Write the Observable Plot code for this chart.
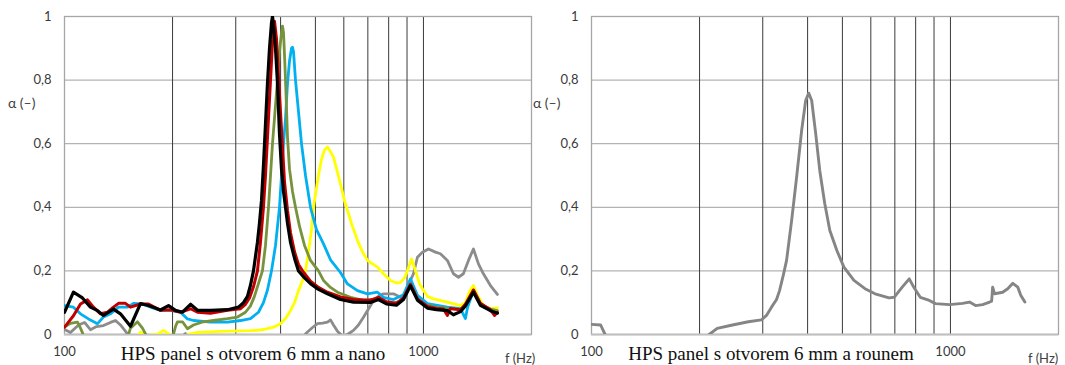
<!DOCTYPE html>
<html><head><meta charset="utf-8">
<script src="https://cdn.jsdelivr.net/npm/d3@7"></script>
<script src="https://cdn.jsdelivr.net/npm/@observablehq/plot@0.6"></script>
<style>
body{margin:0;background:#fff;}
#wrap{position:relative;width:1065px;height:365px;overflow:hidden;font-family:Lato,sans-serif;}
.panel{position:absolute;top:0;}
.lbl{position:absolute;white-space:nowrap;color:#404040;line-height:1;}
.cap{position:absolute;font-family:"Liberation Serif","Times New Roman",serif;font-size:19px;color:#111;white-space:nowrap;transform:translateX(-50%);line-height:1;}
</style></head><body><div id="wrap"></div>
<script>
// ---- axes / ticks ----
const xDomain = [100, 2000];
const xTicks = [100, 1000];
const xGrid = [200, 300, 400, 500, 600, 700, 800, 900, 1000];
const yTicks = [0, 0.2, 0.4, 0.6, 0.8, 1];
const yGrid = [0.2, 0.4, 0.6, 0.8];
const captions = ["HPS panel s otvorem 6 mm a nano", "HPS panel s otvorem 6 mm a rounem"];

// ---- left panel series (f in Hz, alpha) ----
const freqBlack = [100,105.9,112.2,118.1,123.6,128.4,136.9,143.2,152.7,162.8,171.4,185.1,194.9,203.8,213.2,224.4,234.7,255.1,284.5,305.3,315.2,323.4,329.7,336.1,344.8,349.3,353.8,358.3,363.0,367.7,372.5,377.3,379.7,382.2,387.1,392.1,397.2,402.3,407.5,412.8,418.1,426.2,437.3,448.7,466.3,484.5,510.0,540.3,587.2,638.4,711.9,749.4,788.8,841.0,879.6,920.0,962.2,1026,1087,1166,1212,1268,1309,1378,1441,1537,1607];
const alphaBlack = [0.070,0.133,0.115,0.086,0.075,0.060,0.080,0.065,0.026,0.097,0.091,0.077,0.091,0.076,0.070,0.095,0.076,0.076,0.078,0.086,0.10,0.12,0.155,0.20,0.29,0.35,0.42,0.53,0.66,0.79,0.90,0.98,1.0,0.97,0.90,0.79,0.63,0.52,0.45,0.40,0.35,0.29,0.24,0.20,0.178,0.16,0.142,0.128,0.11,0.102,0.101,0.11,0.096,0.092,0.11,0.153,0.108,0.083,0.078,0.075,0.062,0.072,0.09,0.133,0.092,0.075,0.067];

const freqRed = [100,105.9,110.8,115.9,120.4,126.0,131.8,136.9,141.4,147.8,152.7,162.8,171.4,185.1,197.4,210.4,224.4,234.7,255.1,284.5,309.3,319.3,327.6,336.1,344.8,351.5,358.3,363.0,367.7,374.9,379.7,384.6,389.6,394.6,399.7,404.9,410.1,418.1,426.2,437.3,448.7,460.4,484.5,510.0,540.3,587.2,638.4,711.9,749.4,788.8,841.0,879.6,920.0,962.2,1026,1087,1137,1166,1189,1268,1309,1378,1441,1537,1577,1607];
const alphaRed = [0.023,0.059,0.096,0.109,0.086,0.065,0.070,0.086,0.098,0.098,0.086,0.096,0.096,0.076,0.078,0.070,0.081,0.070,0.067,0.076,0.081,0.095,0.115,0.15,0.20,0.29,0.40,0.50,0.62,0.80,0.92,0.985,0.93,0.81,0.70,0.59,0.48,0.39,0.32,0.26,0.22,0.20,0.168,0.148,0.133,0.118,0.110,0.108,0.117,0.103,0.098,0.115,0.158,0.112,0.088,0.082,0.080,0.06,0.082,0.078,0.095,0.14,0.098,0.078,0.06,0.07];

const freqGreen = [100,103.9,108.7,110.8,113.7,118.1,143.2,149.8,152.7,159.7,164.9,170.3,175.9,194.9,200,203.8,206.4,213.2,220.1,228.7,243.9,260.0,284.5,303.4,319.3,329.7,338.2,347.0,356.0,363.0,370.1,374.9,379.7,384.6,392.1,397.2,402.3,404.9,407.5,410.1,412.8,418.1,423.5,431.7,440.1,451.6,466.3,484.5,510.0,526.7,550.9,576.1,626.2,680.6,744.6,788.8,825.0,879.6,920.0,962.2,1000,1087,1166,1268,1309,1378,1441,1537,1607];
const alphaGreen = [0.023,0.035,0.039,0.02,-0.01,-0.05,-0.05,-0.01,0.02,0.040,0.02,-0.01,-0.05,-0.05,-0.01,0.025,0.040,0.040,0.018,0.030,0.040,0.044,0.050,0.055,0.07,0.09,0.12,0.16,0.20,0.28,0.40,0.50,0.60,0.68,0.80,0.89,0.95,0.97,0.95,0.88,0.80,0.62,0.52,0.45,0.40,0.34,0.28,0.233,0.20,0.17,0.148,0.133,0.117,0.107,0.112,0.100,0.097,0.11,0.159,0.11,0.095,0.085,0.082,0.078,0.092,0.14,0.095,0.08,0.075];

const freqBlue = [100,105.9,110.8,116.6,123.6,128.4,134.3,141.4,149.8,155.6,164.9,173.6,185.1,197.4,210.4,220.1,228.7,255.1,284.5,309.3,329.7,347.0,358.3,367.7,377.3,387.1,397.2,402.3,407.5,412.8,418.1,423.5,429.0,431.7,434.5,440.1,448.7,457.4,469.3,484.5,503.5,526.7,550.9,587.2,614.3,654.9,698.3,744.6,773.8,825.0,879.6,920.0,962.2,1026,1166,1268,1309,1327,1378,1441,1537,1607];
const alphaBlue = [0.091,0.086,0.065,0.049,0.034,0.055,0.065,0.086,0.086,0.098,0.096,0.086,0.076,0.076,0.070,0.049,0.044,0.039,0.039,0.044,0.05,0.07,0.10,0.14,0.20,0.28,0.40,0.50,0.60,0.68,0.79,0.86,0.90,0.903,0.89,0.80,0.70,0.60,0.50,0.40,0.33,0.285,0.235,0.195,0.159,0.138,0.128,0.133,0.117,0.11,0.125,0.175,0.123,0.097,0.086,0.081,0.05,0.085,0.138,0.097,0.075,0.07];

const freqYellow = [100,147.8,155.6,162.8,168.1,181.6,188.7,197.4,217.3,224.4,234.7,272.0,329.7,344.8,365.4,382.2,399.7,412.8,426.2,437.3,448.7,460.4,469.3,478.4,487.6,493.9,503.5,510.0,519.9,530.0,540.3,550.9,561.5,576.1,587.2,602.6,614.3,634.3,654.9,676.3,698.3,721.1,744.6,773.8,809.3,841.0,862.9,885.3,902.5,926.0,949.9,974.7,993.6,1026,1066,1166,1268,1309,1344,1378,1414,1469,1537,1607];
const alphaYellow = [-0.08,-0.06,-0.02,0.007,-0.003,0.0,0.013,-0.002,-0.003,0.002,0.007,0.01,0.012,0.013,0.018,0.023,0.034,0.05,0.075,0.10,0.138,0.17,0.20,0.26,0.33,0.40,0.46,0.50,0.55,0.58,0.59,0.575,0.558,0.51,0.474,0.42,0.39,0.34,0.296,0.26,0.233,0.222,0.212,0.191,0.170,0.162,0.164,0.178,0.20,0.238,0.201,0.16,0.144,0.12,0.112,0.102,0.091,0.10,0.135,0.154,0.123,0.091,0.081,0.084];

const freqGray = [100,103.9,109.4,113.7,118.1,122.8,128.4,134.3,138.7,143.2,149.8,155.6,203.8,213.2,217.3,221.5,231.7,440.1,463.4,475.3,490.8,506.8,523.3,540.3,550.9,561.5,576.1,594.9,614.3,638.4,659.1,680.6,702.8,725.7,749.4,773.8,825.0,862.9,896.7,920.0,937.8,962.2,993.6,1032.6,1080,1115,1166,1212,1252,1292,1335,1378,1423,1469,1537,1607];
const alphaGray = [0.016,0.006,0.03,0.038,0.015,0.025,0.028,0.038,0.044,0.03,0.002,-0.04,-0.04,-0.005,0.003,-0.005,-0.05,-0.05,-0.005,0.008,0.022,0.034,0.036,0.039,0.046,0.03,0.01,-0.005,0.0,0.013,0.03,0.054,0.08,0.107,0.12,0.128,0.128,0.117,0.128,0.17,0.191,0.243,0.259,0.269,0.259,0.254,0.233,0.191,0.180,0.191,0.233,0.269,0.222,0.191,0.154,0.126];

// ---- right panel series ----
const freqRouno = [100,106.0,110.2,114.5,189.4,202.0,212.7,224.0,245.2,273.5,297.4,307.2,317.3,327.7,334.1,342.8,349.5,361.0,372.8,385.0,395.1,402.8,410.6,421.4,432.4,446.6,461.3,482.6,504.9,538.5,578.0,616.6,674.6,696.8,733.9,767.7,793.0,824.1,873.4,907.9,993.6,1080,1130,1175,1229,1286,1302.5,1311,1328,1398,1444,1492,1540,1571,1612];
const alphaRouno = [0.032,0.030,-0.01,-0.06,-0.06,-0.03,0.0,0.019,0.029,0.040,0.046,0.06,0.086,0.11,0.138,0.19,0.233,0.358,0.495,0.642,0.736,0.759,0.736,0.631,0.516,0.411,0.327,0.264,0.212,0.170,0.144,0.128,0.115,0.117,0.149,0.175,0.146,0.117,0.107,0.097,0.094,0.098,0.102,0.091,0.094,0.102,0.105,0.149,0.128,0.133,0.144,0.161,0.149,0.123,0.102];

const leftSeries = [
  {f: freqGray, a: alphaGray, color: "#8c8c8c", w: 2.8},
  {f: freqYellow, a: alphaYellow, color: "#ffff00", w: 2.8},
  {f: freqBlue, a: alphaBlue, color: "#00b0f0", w: 2.8},
  {f: freqGreen, a: alphaGreen, color: "#77933c", w: 2.8},
  {f: freqRed, a: alphaRed, color: "#c00000", w: 3},
  {f: freqBlack, a: alphaBlack, color: "#000000", w: 3.2}
];
const rightSeries = [
  {f: freqRouno, a: alphaRouno, color: "#858585", w: 2.9}
];

const fmtY = d => String(d).replace(".", ",");

function panel(series, width, marginLeft, marginRight) {
  return Plot.plot({
    width, height: 365,
    marginLeft, marginRight, marginTop: 16, marginBottom: 31,
    x: {type: "log", domain: xDomain, label: null},
    y: {domain: [0, 1], label: null},
    style: {fontFamily: "Lato, sans-serif", fontSize: "13px", color: "#3a3a3a", background: "transparent", overflow: "visible"},
    marks: [
      Plot.ruleY(yGrid, {stroke: "#b3b3b3", strokeWidth: 1.3}),
      Plot.ruleX(xGrid, {stroke: "#3a3a3a", strokeWidth: 1}),
      Plot.frame({stroke: "#a6a6a6", strokeWidth: 1.3}),
      Plot.ruleY([0], {stroke: "#c0c0c0", strokeWidth: 2}),
      ...series.map(s => Plot.line(s.f.map((f, i) => ({f, a: s.a[i]})),
        {x: "f", y: "a", stroke: s.color, strokeWidth: s.w, clip: true})),
      Plot.axisX(xTicks, {tickSize: 0, tickPadding: 12, tickFormat: d => String(d), label: null}),
      Plot.axisY(yTicks, {tickSize: 0, tickPadding: 13, tickFormat: fmtY, label: null})
    ]
  });
}

const wrap = document.getElementById("wrap");
function place(el, left) {
  el.classList.add("panel");
  el.style.left = left + "px";
  wrap.appendChild(el);
}
place(panel(leftSeries, 532, 64, 1), 0);
place(panel(rightSeries, 533, 59, 7), 532);

function addText(cls, text, left, top, size) {
  const d = document.createElement("div");
  d.className = cls;
  d.textContent = text;
  d.style.left = left + "px";
  d.style.top = top + "px";
  if (size) d.style.fontSize = size + "px";
  wrap.appendChild(d);
}
addText("lbl", "α (–)", 8, 96, 14);
addText("lbl", "α (–)", 533, 96, 14);
addText("lbl", "f (Hz)", 505, 352, 13);
addText("lbl", "f (Hz)", 1028, 352, 13);
addText("cap", captions[0], 253, 344);
addText("cap", captions[1], 771, 344);
</script>
</body></html>
